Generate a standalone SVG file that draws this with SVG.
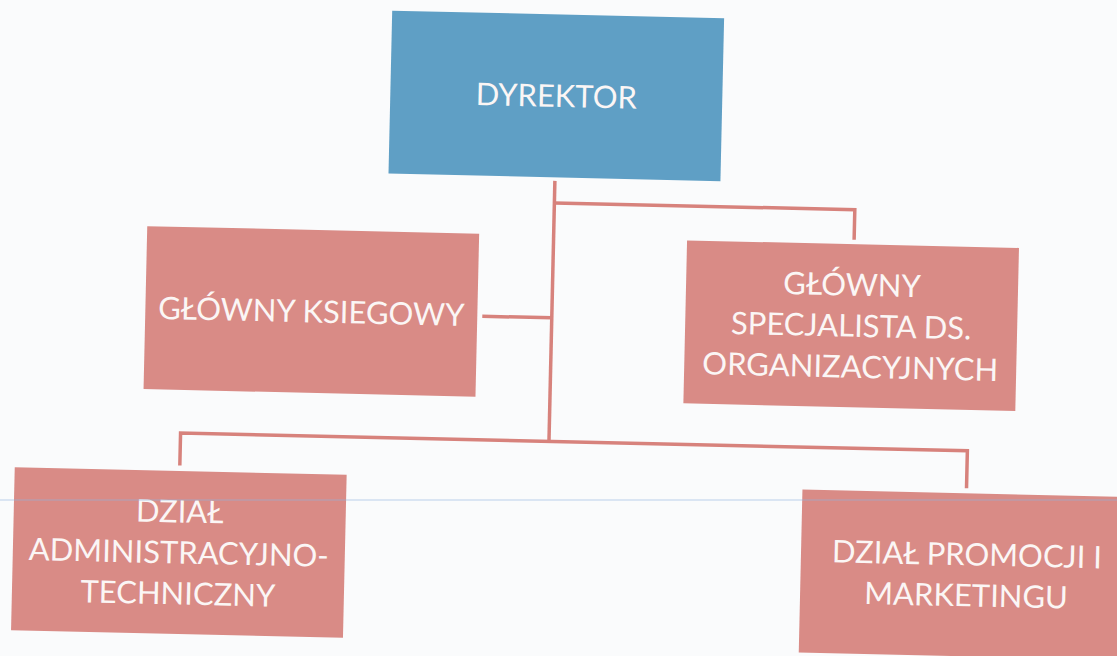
<svg xmlns="http://www.w3.org/2000/svg" width="1117" height="656" viewBox="0 0 1117 656">
  <style>
    .box { fill: #d98b86; }
    .top { fill: #5f9fc5; }
    .lbl { font-family: Lato, "Liberation Sans", sans-serif; font-size: 31px; fill: #fbf6f5; text-anchor: middle; }
    .conn { fill: none; stroke: #d7827c; stroke-width: 3.5; }
  </style>
  <rect x="0" y="0" width="1117" height="656" fill="#fafbfc"/>
  <g transform="rotate(1.3 558 330)">
    <g id="connectors">
      <polyline class="conn" points="551.5,181 551.5,441.5"/>
      <polyline class="conn" points="551.5,203 852,203 852,233"/>
      <polyline class="conn" points="482,318 551.5,318"/>
      <polyline class="conn" points="183,474 183,441.5 970,441.5 970,479"/>
    </g>
    <g id="node-dyrektor">
      <rect class="top" x="385" y="14.5" width="332" height="163"/>
      <text class="lbl" x="551" y="107">DYREKTOR</text>
    </g>
    <g id="node-ksiegowy">
      <rect class="box" x="145" y="235.5" width="332" height="163"/>
      <text class="lbl" x="311" y="328">GŁÓWNY KSIEGOWY</text>
    </g>
    <g id="node-specjalista">
      <rect class="box" x="685" y="237.5" width="332" height="163"/>
      <text class="lbl" x="851" y="289">GŁÓWNY</text>
      <text class="lbl" x="851" y="330">SPECJALISTA DS.</text>
      <text class="lbl" x="851" y="371">ORGANIZACYJNYCH</text>
    </g>
    <g id="node-administracyjny">
      <rect class="box" x="18" y="479.5" width="332" height="163"/>
      <text class="lbl" x="184" y="531">DZIAŁ</text>
      <text class="lbl" x="184" y="572">ADMINISTRACYJNO-</text>
      <text class="lbl" x="184" y="613">TECHNICZNY</text>
    </g>
    <g id="node-promocji">
      <rect class="box" x="806" y="484" width="332" height="163"/>
      <text class="lbl" x="972" y="556">DZIAŁ PROMOCJI I</text>
      <text class="lbl" x="972" y="597">MARKETINGU</text>
    </g>
  </g>
  <line x1="0" y1="500" x2="1117" y2="500" stroke="#8fb6e0" stroke-width="1.2" opacity="0.6"/>
</svg>
